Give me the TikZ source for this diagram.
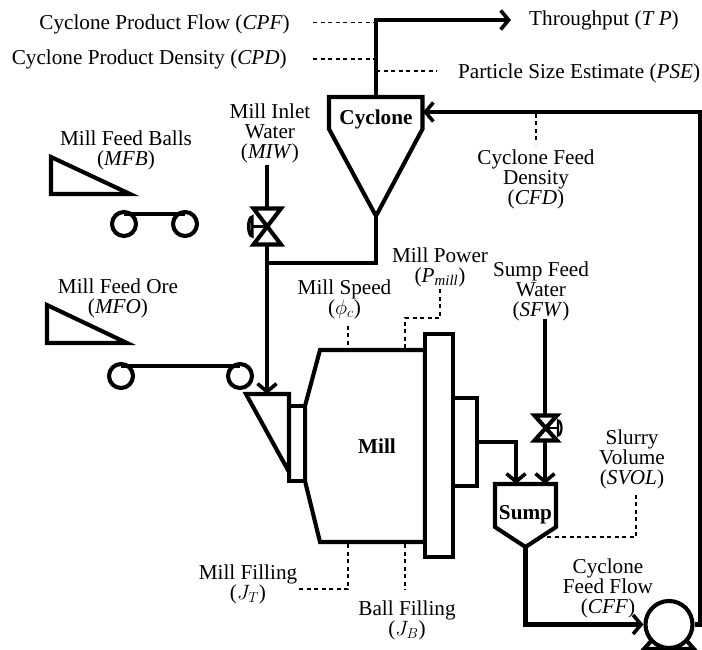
\documentclass[tikz,border=0pt]{standalone}
\usepackage{fontspec}
\setmainfont{Liberation Serif}
\usetikzlibrary{arrows.meta}
\newcommand{\tagv}[1]{\textit{#1}}
\begin{document}
\begin{tikzpicture}[
  x=1pt, y=-1pt,
  font=\fontsize{21.2}{20}\selectfont,
  pipe/.style={line width=4.1pt, line join=miter},
  flow/.style={pipe, -{Straight Barb[length=8pt, width=19pt, line width=3.6pt]}},
  unit/.style={pipe, fill=white},
  probe/.style={line width=1.7pt, dash pattern=on 4pt off 3.5pt},
  roller/.style={draw, pipe, circle, minimum size=24pt, inner sep=0pt},
  lab/.style={align=center, inner sep=0pt},
  unitlab/.style={lab, font=\fontsize{21.2}{20}\selectfont\bfseries}
]
  \useasboundingbox (0,0) rectangle (702,650);
  \clip (0,0) rectangle (702,650);

  % equipment anchors
  \coordinate (cycTop) at (376,97);
  \coordinate (cycTip) at (376,216);
  \coordinate (cycIn) at (423,112);
  \coordinate (tpEnd) at (511,20);
  \coordinate (tpCorner) at (376,20);
  \coordinate (feedCorner) at (700.5,112);
  \coordinate (feedOut) at (700.5,624.5);
  \coordinate (underCorner) at (376,263);
  \coordinate (hopperIn) at (267,394);
  \coordinate (miwTop) at (267,165);
  \coordinate (sfwTop) at (545,319);
  \coordinate (sumpInA) at (516,484);
  \coordinate (sumpInB) at (545,484);
  \coordinate (millOut) at (477,442);
  \coordinate (millCorner) at (516,442);
  \coordinate (sumpTip) at (525.5,547);
  \coordinate (sumpCorner) at (525.5,624.5);

  % mill
  \draw[unit] (305,406) -- (320,350) -- (425,350) -- (425,542) -- (320,542) -- (305,481) -- cycle;
  \draw[unit] (289,406) rectangle (305,481);
  \draw[unit] (425,334) rectangle (453,557);
  \draw[unit] (453,398) rectangle (477,486);
  \draw[unit] (246,394) -- (289,394) -- (289,472) -- cycle;
  \node[unitlab] (mill) at (377,446) {Mill};

  % cyclone and sump
  \draw[unit] (329,97) -- (422.5,97) -- (422.5,129) -- (cycTip) -- (329,129) -- cycle;
  \node[unitlab] (cyclone) at (376,119) {Cyclone};
  \draw[unit] (495,484) -- (556,484) -- (556,527) -- (sumpTip) -- (495,527) -- cycle;
  \node[unitlab] (sump) at (525.5,514.5) {Sump};

  % pump
  \draw[pipe] (652,640) -- (644,649) -- (694,649) -- (686,640);
  \node[draw, pipe, fill=white, circle, minimum size=47pt, inner sep=0pt] (pump) at (669,624.5) {};

  % feed belts
  \draw[pipe] (51,157) -- (130,194) -- (51,194) -- cycle;
  \node[roller] (beltA) at (124,224) {};
  \node[roller] (beltB) at (185,224) {};
  \draw[pipe] ([yshift=10pt]beltA.center) -- ([yshift=10pt]beltB.center);
  \draw[pipe] (47,305) -- (127,343) -- (47,343) -- cycle;
  \node[roller] (beltC) at (121,376) {};
  \node[roller] (beltD) at (240,376) {};
  \draw[pipe] ([yshift=10pt]beltC.center) -- ([yshift=10pt]beltD.center);

  % pipes
  \draw[flow] (cycTop) -- (tpCorner) -- (tpEnd);
  \draw[flow] (pump.east) -- (feedOut) -- (feedCorner) -- (cycIn);
  \draw[pipe] (cycTip) -- (underCorner) -- (267,263);
  \draw[flow] (miwTop) -- (hopperIn);
  \draw[flow] (sfwTop) -- (sumpInB);
  \draw[flow] (millOut) -- (millCorner) -- (sumpInA);
  \draw[flow] (sumpTip) -- (sumpCorner) -- (pump.west);

  % valves
  \draw[unit] (253.5,208.5) -- (281,208.5) -- (253.5,244.5) -- (281,244.5) -- cycle;
  \draw[pipe, line width=2.8pt] (267,226.5) -- (252,226.5);
  \draw[pipe, line width=3pt] (252,217) arc (90:270:3.5pt and 9.5pt) -- cycle;
  \draw[unit] (534.5,415.5) -- (557,415.5) -- (534.5,440.5) -- (557,440.5) -- cycle;
  \draw[pipe, line width=2.8pt] (546,428) -- (557,428);
  \draw[pipe, line width=2.2pt] (558,420.5) arc (90:-90:3.5pt and 7.5pt) -- cycle;

  % measurement lines
  \draw[probe] (313,22.5) -- (376,22.5);
  \draw[probe] (313,59) -- (376,59);
  \draw[probe] (376,71) -- (437,71);
  \draw[probe] (536,114) -- (536,144);
  \draw[probe] (348,352) -- (348,325);
  \draw[probe] (405,348) -- (405,318) -- (440,318) -- (440,287);
  \draw[probe] (348,544) -- (348,589) -- (297,589);
  \draw[probe] (405,544) -- (405,590);
  \draw[probe] (547,537) -- (636,537) -- (636,493);

  % labels
  \node[lab, anchor=east] (cpf) at (290,24) {Cyclone Product Flow (\tagv{CPF})};
  \node[lab, anchor=east] (cpd) at (287,59) {Cyclone Product Density (\tagv{CPD})};
  \node[lab, anchor=west] (tp) at (529,20) {Throughput (\tagv{T P})};
  \node[lab, anchor=west] (pse) at (458,73) {Particle Size Estimate (\tagv{PSE})};
  \node[lab] (miw) at (270,133) {Mill Inlet\\Water\\(\tagv{MIW})};
  \node[lab] (mfb) at (126,150) {Mill Feed Balls\\(\tagv{MFB})};
  \node[lab] (mfo) at (118,298.5) {Mill Feed Ore\\(\tagv{MFO})};
  \node[lab] (cfd) at (536,179.5) {Cyclone Feed\\Density\\(\tagv{CFD})};
  \node[lab] (speed) at (344.5,299) {Mill Speed\\($\phi_c$)};
  \node[lab] (power) at (440,267) {Mill Power\\(\tagv{P}\textsubscript{\textit{mill}})};
  \node[lab] (sfw) at (541,291) {Sump Feed\\Water\\(\tagv{SFW})};
  \node[lab] (svol) at (632,459) {Slurry\\Volume\\(\tagv{SVOL})};
  \node[lab] (cff) at (608,588.5) {Cyclone\\Feed Flow\\(\tagv{CFF})};
  \node[lab] (jt) at (248,584) {Mill Filling\\($J_T$)};
  \node[lab] (jb) at (407,620) {Ball Filling\\($J_B$)};
\end{tikzpicture}
\end{document}
